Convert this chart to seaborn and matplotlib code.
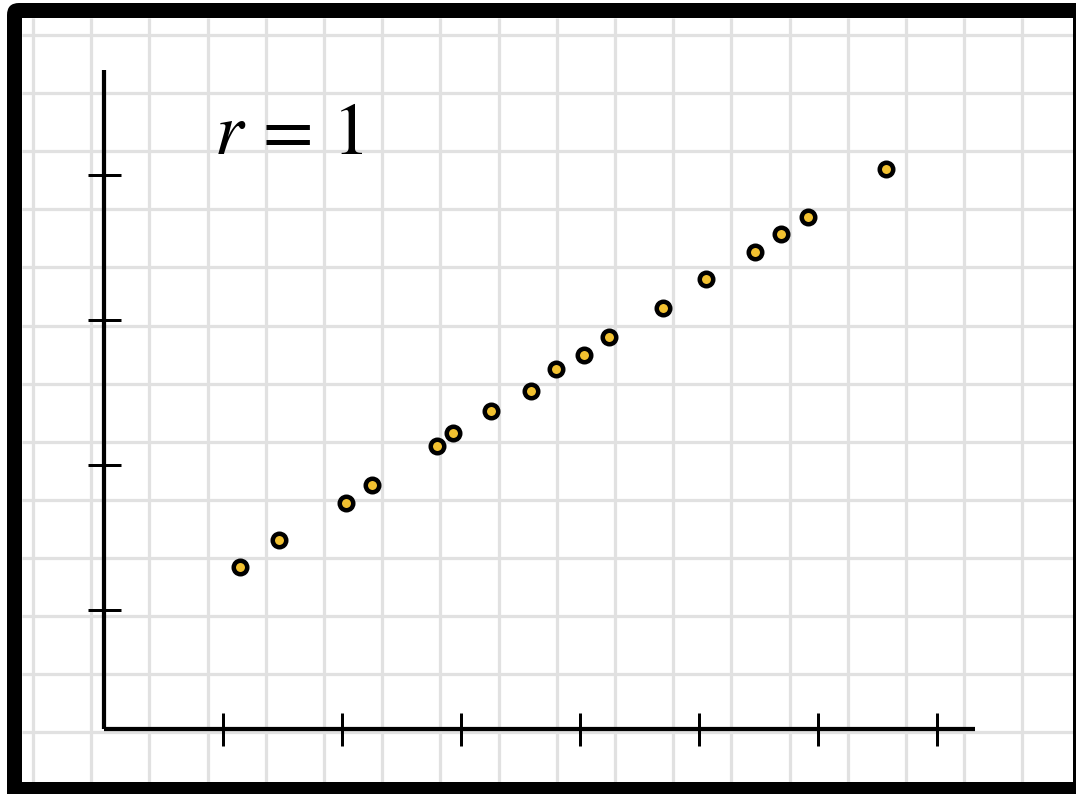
import numpy as np
import pandas as pd
import matplotlib
matplotlib.use("Agg")
import matplotlib.pyplot as plt
from matplotlib.patches import FancyBboxPatch, PathPatch
from matplotlib.path import Path
import seaborn as sns

# Observations (perfectly linear relationship, r = 1)
x_values = [1.14, 1.47, 2.03, 2.25, 2.80, 2.93, 3.25, 3.59, 3.80, 4.03,
            4.24, 4.70, 5.06, 5.47, 5.69, 5.92, 6.57]
y_values = [1.30, 1.48, 1.74, 1.86, 2.13, 2.22, 2.37, 2.51, 2.66, 2.76,
            2.88, 3.08, 3.28, 3.47, 3.59, 3.71, 4.04]
x_ticks = [1, 2, 3, 4, 5, 6, 7]
y_ticks = [1, 2, 3, 4]
label = r"$r\, =\, 1$"

df = pd.DataFrame({"x": x_values, "y": y_values})

sns.set_style("white")
plt.rcParams["mathtext.fontset"] = "stix"

W, H = 1076, 794
DPI = 100
PX = 72 / DPI  # points per pixel

fig = plt.figure(figsize=(W / DPI, H / DPI), dpi=DPI)
fig.patch.set_facecolor("white")

# Graph-paper background in pixel space, inside the frame only
in_l, in_t, in_r, in_b = 22, 18, 1073, 782
bg = fig.add_axes([0, 0, 1, 1], zorder=0)
bg.set_xlim(0, W)
bg.set_ylim(H, 0)
bg.axis("off")
bg.vlines(np.arange(33, W, 58.2), in_t, in_b, color="#e1e1e1", lw=3.2 * PX)
bg.hlines(np.arange(35, H, 58.1), in_l, in_r, color="#e1e1e1", lw=3.2 * PX)

# Plot area
left, right, bottom_px, top_px = 104, 975, 729, 70
ax = fig.add_axes([left / W, (H - bottom_px) / H, (right - left) / W,
                   (bottom_px - top_px) / H], zorder=2)
ax.patch.set_alpha(0)

sns.scatterplot(data=df, x="x", y="y", ax=ax, s=(13.5 * PX) ** 2,
                color="#f2c130", edgecolor="black", linewidth=4.5 * PX,
                zorder=5, clip_on=False)

ax.set_xlim(0, 871 / 119)
ax.set_ylim((755 - 729) / 145, (755 - 70) / 145)
ax.set_xticks(x_ticks)
ax.set_yticks(y_ticks)
ax.set_xticklabels([])
ax.set_yticklabels([])
ax.set_xlabel("")
ax.set_ylabel("")
ax.tick_params(bottom=True, left=True, direction="inout",
               length=33 * PX, width=3 * PX, color="black")
for side in ["top", "right"]:
    ax.spines[side].set_visible(False)
for side in ["left", "bottom"]:
    ax.spines[side].set_linewidth(4.2 * PX)
    ax.spines[side].set_color("black")
    ax.spines[side].set_capstyle("butt")

# Correlation label and black frame
top = fig.add_axes([0, 0, 1, 1], zorder=3)
top.set_xlim(0, W)
top.set_ylim(H, 0)
top.axis("off")
top.patch.set_alpha(0)
top.text(214, 154, label, fontsize=53, color="black", ha="left", va="baseline")

outer = FancyBboxPatch((7, 3), 1200, 900,
                       boxstyle="round,pad=0,rounding_size=12").get_path()
inner = Path([(in_l, in_t), (in_l, in_b), (in_r, in_b), (in_r, in_t), (in_l, in_t)],
             [Path.MOVETO, Path.LINETO, Path.LINETO, Path.LINETO, Path.CLOSEPOLY])
if np.sign(np.cross(outer.vertices[1] - outer.vertices[0],
                    outer.vertices[2] - outer.vertices[1])) == \
        np.sign(np.cross(inner.vertices[1] - inner.vertices[0],
                         inner.vertices[2] - inner.vertices[1])):
    inner = Path(inner.vertices[::-1], inner.codes)
frame = PathPatch(Path.make_compound_path(outer, inner), facecolor="black",
                  edgecolor="none", clip_on=False)
top.add_patch(frame)

fig.savefig("out.png", dpi=DPI)
